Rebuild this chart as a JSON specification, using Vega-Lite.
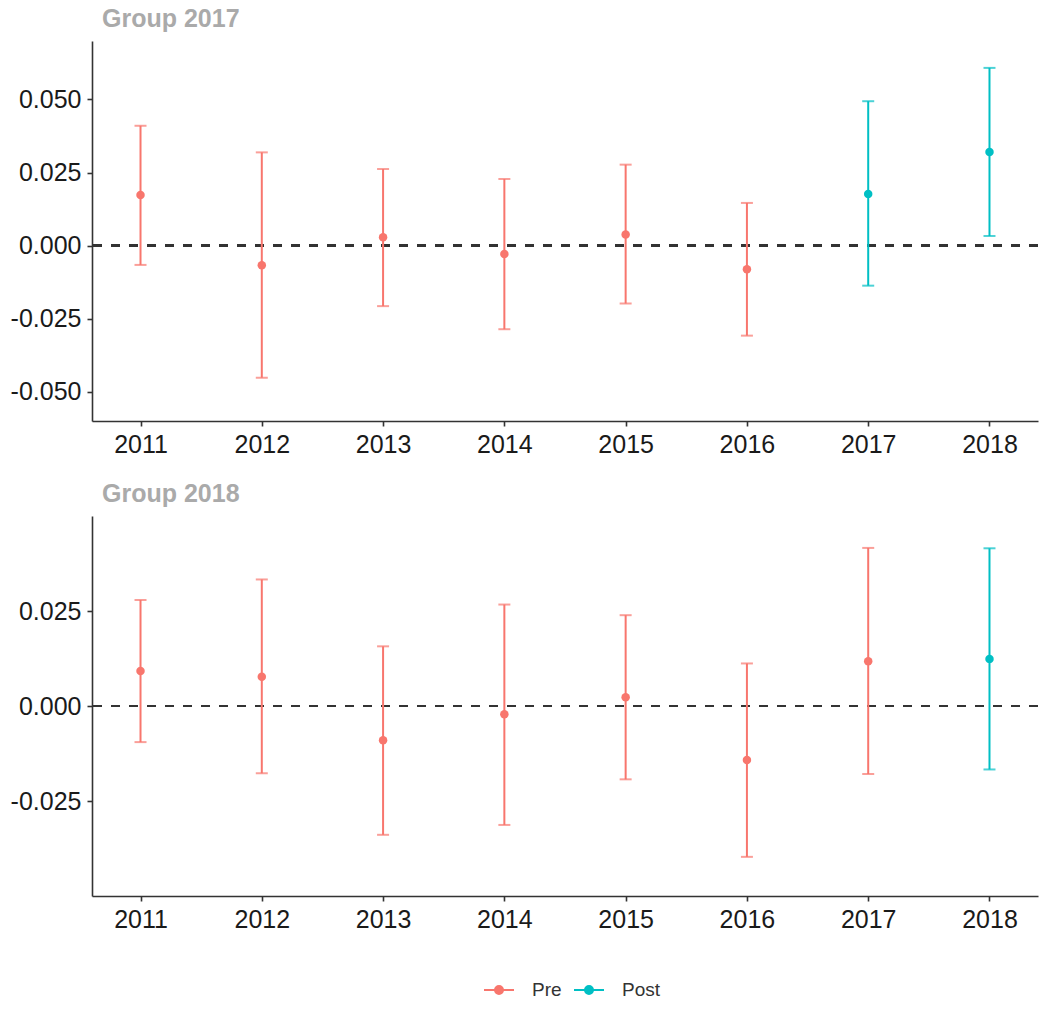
{
  "$schema": "https://vega.github.io/schema/vega-lite/v6.json",
  "padding": {"left": 10, "top": 7, "right": 10, "bottom": 6},
  "background": "white",
  "datasets": {
    "est": [
      {"group": "2017", "year": "2011", "period": "Pre", "est": 0.0173, "lo": -0.0066, "hi": 0.0410},
      {"group": "2017", "year": "2012", "period": "Pre", "est": -0.0067, "lo": -0.0452, "hi": 0.0319},
      {"group": "2017", "year": "2013", "period": "Pre", "est": 0.0029, "lo": -0.0207, "hi": 0.0262},
      {"group": "2017", "year": "2014", "period": "Pre", "est": -0.0029, "lo": -0.0286, "hi": 0.0228},
      {"group": "2017", "year": "2015", "period": "Pre", "est": 0.0038, "lo": -0.0198, "hi": 0.0277},
      {"group": "2017", "year": "2016", "period": "Pre", "est": -0.0081, "lo": -0.0308, "hi": 0.0146},
      {"group": "2017", "year": "2017", "period": "Post", "est": 0.0177, "lo": -0.0137, "hi": 0.0494},
      {"group": "2017", "year": "2018", "period": "Post", "est": 0.0320, "lo": 0.0033, "hi": 0.0608},
      {"group": "2018", "year": "2011", "period": "Pre", "est": 0.0092, "lo": -0.0095, "hi": 0.0279},
      {"group": "2018", "year": "2012", "period": "Pre", "est": 0.0077, "lo": -0.0177, "hi": 0.0333},
      {"group": "2018", "year": "2013", "period": "Pre", "est": -0.0090, "lo": -0.0339, "hi": 0.0157},
      {"group": "2018", "year": "2014", "period": "Pre", "est": -0.0022, "lo": -0.0313, "hi": 0.0267},
      {"group": "2018", "year": "2015", "period": "Pre", "est": 0.0023, "lo": -0.0193, "hi": 0.0239},
      {"group": "2018", "year": "2016", "period": "Pre", "est": -0.0142, "lo": -0.0397, "hi": 0.0112},
      {"group": "2018", "year": "2017", "period": "Pre", "est": 0.0118, "lo": -0.0179, "hi": 0.0416},
      {"group": "2018", "year": "2018", "period": "Post", "est": 0.0124, "lo": -0.0167, "hi": 0.0415}
    ]
  },
  "config": {
    "font": "Liberation Sans",
    "view": {"stroke": null},
    "axis": {
      "grid": false,
      "domainColor": "#333333",
      "domainWidth": 1.6,
      "tickColor": "#333333",
      "tickWidth": 1.6,
      "tickSize": 5,
      "labelFontSize": 25,
      "labelColor": "#1a1a1a",
      "labelPadding": 6,
      "title": null
    },
    "title": {"anchor": "start", "frame": "group", "dx": 10, "color": "#aaaaaa", "fontSize": 25, "fontWeight": "bold", "offset": 9},
    "legend": {
      "title": null,
      "orient": "none",
      "direction": "horizontal",
      "legendX": 396,
      "legendY": 938,
      "labelFontSize": 19,
      "labelColor": "#333333",
      "symbolType": "M -1.5 0 L 1.5 0 M 0.4 0 A 0.4 0.4 0 1 1 -0.4 0 A 0.4 0.4 0 1 1 0.4 0",
      "symbolSize": 400,
      "symbolStrokeWidth": 2,
      "labelOffset": 22,
      "columnPadding": 8
    }
  },
  "spacing": 25,
  "resolve": {"scale": {"color": "shared"}},
  "vconcat": [
    {
      "title": {"text": "Group 2017"},
      "width": 946,
      "height": 380,
      "data": {"name": "est"},
      "transform": [{"filter": "datum.group == '2017'"}],
      "encoding": {
        "x": {"field": "year", "type": "ordinal", "scale": {"type": "point", "padding": 0.4}, "axis": {"labelAngle": 0}},
        "color": {"field": "period", "type": "nominal", "scale": {"domain": ["Pre", "Post"], "range": ["#F8766D", "#00BFC4"]},
          "legend": {"encode": {"symbols": {"update": {"stroke": {"scale": "color", "field": "value"}, "strokeWidth": {"value": 2}}}}}}
      },
      "layer": [
        {
          "mark": {"type": "rule", "strokeDash": [9, 9], "strokeWidth": 2, "color": "#333333"},
          "encoding": {"x": null, "color": null, "y": {"datum": 0, "type": "quantitative", "scale": {"domain": [-0.0505, 0.0663]}}}
        },
        {
          "mark": {"type": "rule", "strokeWidth": 2},
          "encoding": {"y": {"field": "lo", "type": "quantitative"}, "y2": {"field": "hi"}}
        },
        {
          "mark": {"type": "tick", "thickness": 2, "size": 12},
          "encoding": {"y": {"field": "lo", "type": "quantitative"}}
        },
        {
          "mark": {"type": "tick", "thickness": 2, "size": 12},
          "encoding": {"y": {"field": "hi", "type": "quantitative"}}
        },
        {
          "mark": {"type": "point", "filled": true, "size": 72, "opacity": 1},
          "encoding": {
            "y": {"field": "est", "type": "quantitative", "scale": {"domain": [-0.0505, 0.0663]},
              "axis": {"values": [-0.05, -0.025, 0, 0.025, 0.05], "labelExpr": "datum.value < 0 ? '-' + format(-datum.value, '.3f') : format(datum.value, '.3f')"}}
          }
        }
      ]
    },
    {
      "title": {"text": "Group 2018"},
      "width": 946,
      "height": 380,
      "data": {"name": "est"},
      "transform": [{"filter": "datum.group == '2018'"}],
      "encoding": {
        "x": {"field": "year", "type": "ordinal", "scale": {"type": "point", "padding": 0.4}, "axis": {"labelAngle": 0}},
        "color": {"field": "period", "type": "nominal",
          "legend": {"encode": {"symbols": {"update": {"stroke": {"scale": "color", "field": "value"}, "strokeWidth": {"value": 2}}}}}}
      },
      "layer": [
        {
          "mark": {"type": "rule", "strokeDash": [9, 9], "strokeWidth": 2, "color": "#333333"},
          "encoding": {"x": null, "color": null, "y": {"datum": 0, "type": "quantitative", "scale": {"domain": [-0.0435, 0.0455]}}}
        },
        {
          "mark": {"type": "rule", "strokeWidth": 2},
          "encoding": {"y": {"field": "lo", "type": "quantitative"}, "y2": {"field": "hi"}}
        },
        {
          "mark": {"type": "tick", "thickness": 2, "size": 12},
          "encoding": {"y": {"field": "lo", "type": "quantitative"}}
        },
        {
          "mark": {"type": "tick", "thickness": 2, "size": 12},
          "encoding": {"y": {"field": "hi", "type": "quantitative"}}
        },
        {
          "mark": {"type": "point", "filled": true, "size": 72, "opacity": 1},
          "encoding": {
            "y": {"field": "est", "type": "quantitative", "scale": {"domain": [-0.0435, 0.0455]},
              "axis": {"values": [-0.025, 0, 0.025], "labelExpr": "datum.value < 0 ? '-' + format(-datum.value, '.3f') : format(datum.value, '.3f')"}}
          }
        }
      ]
    }
  ]
}
